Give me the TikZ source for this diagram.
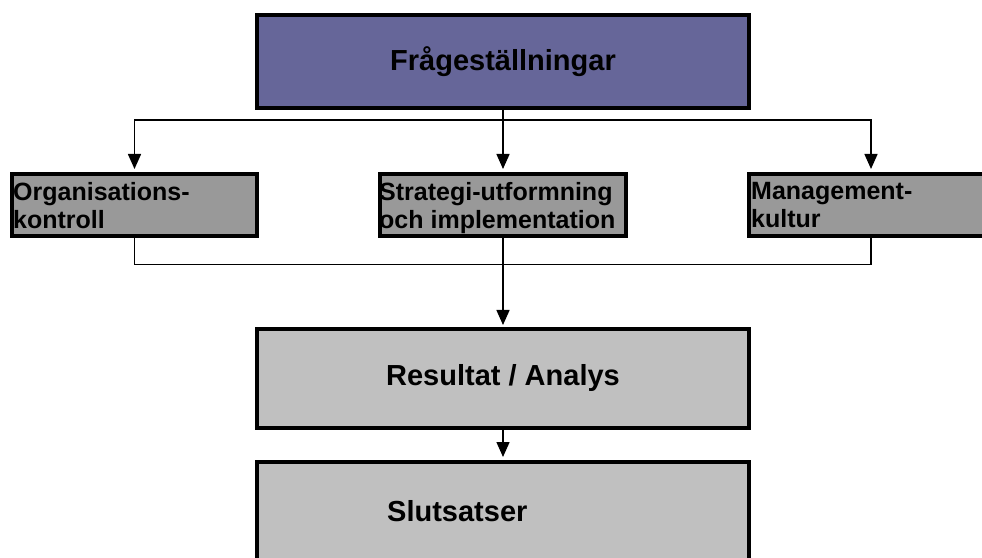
\documentclass[tikz,border=0pt]{standalone}
\usepackage{fontspec}
\setmainfont{Liberation Sans}
\usetikzlibrary{arrows.meta}

\definecolor{topblue}{HTML}{666699}
\definecolor{midgray}{HTML}{999999}
\definecolor{paleGray}{HTML}{C0C0C0}

\begin{document}
\begin{tikzpicture}[x=1pt, y=1pt,
    bigbox/.style={draw, line width=4pt, minimum width=492pt, inner sep=0pt,
      font=\fontsize{29}{34}\selectfont\bfseries},
    smallbox/.style={draw, line width=4pt, fill=midgray, minimum width=245pt,
      minimum height=62pt, inner sep=0pt},
    boxtext/.style={anchor=north west, inner sep=0pt, align=left,
      font=\fontsize{25}{28}\selectfont\bfseries},
    link/.style={line width=1.5pt},
    arr/.style={link, -{Triangle[width=13pt,length=15pt]}, shorten >=3pt}]
	\useasboundingbox (0,0) rectangle (982,557);

	% top question box
	\node[bigbox, fill=topblue, minimum height=93.5pt] (frag) at (503,495.3) {Frågeställningar};

	% the three themes
	\node[smallbox] (org) at (134.5,352) {};
	\node[smallbox, minimum width=246pt] (strat) at (503,352) {};
	\node[smallbox] (mgmt) at (871,352) {};
	\node[boxtext] (org-text) at (13,375) {Organisations-\\kontroll};
	\node[boxtext] (strat-text) at (379,375) {Strategi-utformning\\och implementation};
	\node[boxtext] (mgmt-text) at (751,375) {Management-\\kultur};

	% result and conclusions
	\node[bigbox, fill=paleGray, minimum height=99pt] (res) at (503,178.5) {Resultat / Analys};
	\node[bigbox, fill=paleGray, minimum height=99pt] (slut) at (503,45.5) {};
	\node[anchor=base west, inner sep=0pt, font=\fontsize{29}{34}\selectfont\bfseries] (slut-text) at (387,35.3) {Slutsatser};

	\coordinate (fork) at (503,437);
	\coordinate (join) at (503,292.5);

	\draw[link] (frag.south) -- (fork);
	\draw[arr] (fork) -| (org.north);
	\draw[arr] (fork) -| (mgmt.north);
	\draw[arr] (fork) -- (strat.north);

	\draw[link] (org.south) |- (join) -| (mgmt.south);
	\draw[arr, shorten >=2pt] (strat.south) -- (res.north);
	\draw[arr] (res.south) -- (slut.north);
\end{tikzpicture}
\end{document}
